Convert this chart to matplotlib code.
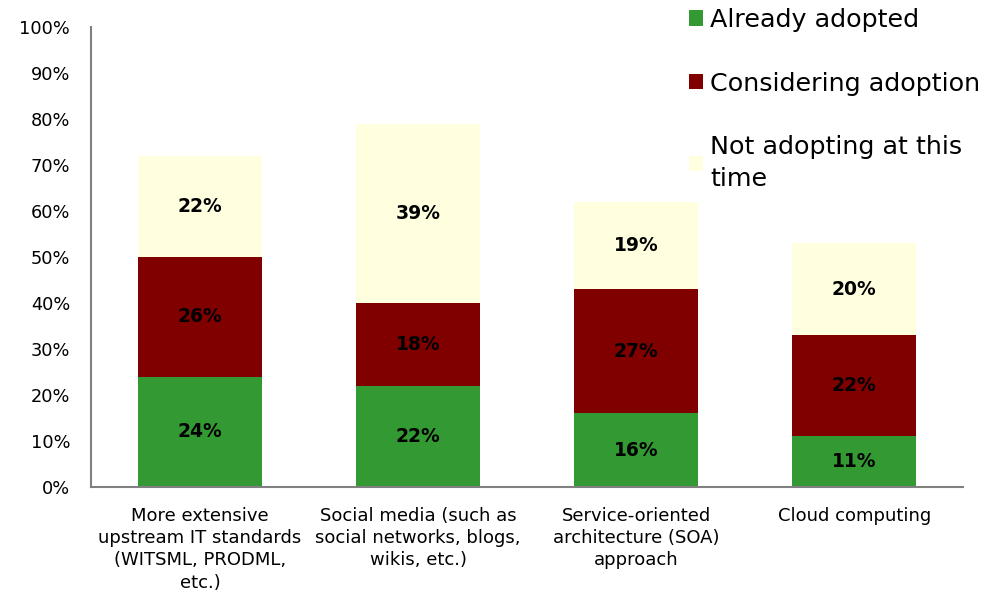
import matplotlib.pyplot as plt
import numpy as np

categories = [
    "More extensive\nupstream IT standards\n(WITSML, PRODML,\netc.)",
    "Social media (such as\nsocial networks, blogs,\nwikis, etc.)",
    "Service-oriented\narchitecture (SOA)\napproach",
    "Cloud computing",
]
series_names = ["Already adopted", "Considering adoption", "Not adopting at this\ntime"]
already = [24, 22, 16, 11]
considering = [26, 18, 27, 22]
not_adopting = [22, 39, 19, 20]
colors = ["#339933", "#800000", "#FFFFE0"]

plt.rcParams["font.family"] = ["DejaVu Sans"]

fig = plt.figure(figsize=(9.95, 5.94), dpi=100)
ax = fig.add_axes([0.0915, 0.180, 0.8765, 0.7745])

x = np.arange(len(categories))
width = 0.57
bottom = np.zeros(len(categories))
handles = []
for vals, col, name in zip([already, considering, not_adopting], colors, series_names):
    bars = ax.bar(x, vals, width, bottom=bottom, color=col, label=name)
    handles.append(bars)
    for xi, b, v in zip(x, bottom, vals):
        ax.text(xi, b + v / 2, f"{v}%", ha="center", va="center",
                fontsize=13.5, fontweight="bold", color="black")
    bottom += np.array(vals)

ax.set_xlim(-0.5, len(categories) - 0.5)
ax.set_ylim(0, 100)
ax.set_yticks(range(0, 101, 10))
ax.set_yticklabels([f"{t}%" for t in range(0, 101, 10)], fontsize=12.8)
ax.set_xticks(x)
ax.set_xticklabels(categories, fontsize=13, linespacing=1.32)
ax.tick_params(axis="y", length=0, pad=15)
ax.tick_params(axis="x", length=0, pad=14)
for s in ["top", "right"]:
    ax.spines[s].set_visible(False)
for s in ["left", "bottom"]:
    ax.spines[s].set_color("#808080")
    ax.spines[s].set_linewidth(1.5)

leg = fig.legend(handles=handles, labels=series_names, loc="upper left",
                 bbox_to_anchor=(0.677, 1.012), frameon=False, fontsize=18.3,
                 handlelength=0.55, handleheight=0.55, handletextpad=0.3,
                 labelspacing=1.55, borderaxespad=0.2)
for t in leg.get_texts():
    t.set_linespacing(1.4)

fig.savefig("out.png", dpi=100, facecolor="white")
